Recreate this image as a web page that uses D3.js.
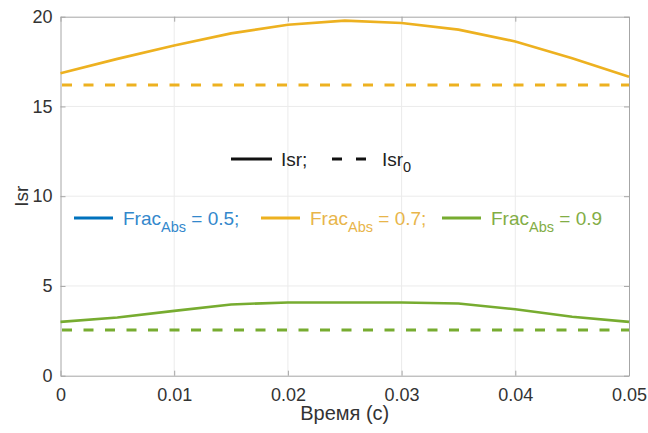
<!DOCTYPE html>
<html>
<head>
<meta charset="utf-8">
<script src="https://cdn.jsdelivr.net/npm/d3@7"></script>
<style>
  html, body { margin: 0; padding: 0; background: #fff; }
  svg { display: block; font-family: "Liberation Sans", Arial, sans-serif; }
</style>
</head>
<body>
<svg id="chart" width="648" height="433"></svg>
<script>
// ---- data ----
const time = [0, 0.005, 0.01, 0.015, 0.02, 0.025, 0.03, 0.035, 0.04, 0.045, 0.05];
const isrFrac07 = [16.85, 17.65, 18.4, 19.07, 19.55, 19.78, 19.65, 19.28, 18.62, 17.68, 16.65];
const isr0Frac07 = [16.2, 16.2, 16.2, 16.2, 16.2, 16.2, 16.2, 16.2, 16.2, 16.2, 16.2];
const isrFrac09 = [3.0, 3.24, 3.61, 3.97, 4.08, 4.08, 4.08, 4.02, 3.7, 3.28, 3.0];
const isr0Frac09 = [2.55, 2.55, 2.55, 2.55, 2.55, 2.55, 2.55, 2.55, 2.55, 2.55, 2.55];
const xTicks = [0, 0.01, 0.02, 0.03, 0.04, 0.05];
const xTickLabels = ["0", "0.01", "0.02", "0.03", "0.04", "0.05"];
const yTicks = [0, 5, 10, 15, 20];
const fracLabels = ["0.5;", "0.7;", "0.9"];
const fracColors = ["#0072BD", "#EDB120", "#77AC30"];
const fracTextColors = ["#3388cc", "#e8b54a", "#82ad45"];

// ---- layout ----
const svg = d3.select("#chart");
const pLeft = 60.5, pRight = 629, pTop = 16.7, pBottom = 375.7;
const x = d3.scaleLinear().domain([0, 0.05]).range([pLeft, pRight]);
const y = d3.scaleLinear().domain([0, 20]).range([pBottom, pTop]);
const axisColor = "#a6a6a6";
const textColor = "#333333";
const fontFam = "Liberation Sans, Arial, sans-serif";

// grid
const g = svg.append("g");
g.selectAll("line.gx").data(xTicks.slice(1, -1)).enter().append("line")
  .attr("x1", d => x(d)).attr("x2", d => x(d)).attr("y1", pTop).attr("y2", pBottom)
  .attr("stroke", "#ebebeb").attr("stroke-width", 1);
g.selectAll("line.gy").data(yTicks.slice(1, -1)).enter().append("line")
  .attr("x1", pLeft).attr("x2", pRight).attr("y1", d => y(d)).attr("y2", d => y(d))
  .attr("stroke", "#ebebeb").attr("stroke-width", 1);

// axes
const xAxis = d3.axisBottom(x).tickValues(xTicks).tickFormat((d, i) => xTickLabels[i])
  .tickSizeInner(-5).tickSizeOuter(0).tickPadding(13);
const yAxis = d3.axisLeft(y).tickValues(yTicks).tickFormat(d3.format("d"))
  .tickSizeInner(-5).tickSizeOuter(0).tickPadding(8);

const gx = svg.append("g").attr("transform", `translate(0,${pBottom})`).call(xAxis);
const gy = svg.append("g").attr("transform", `translate(${pLeft},0)`).call(yAxis);
const gxTop = svg.append("g").attr("transform", `translate(0,${pTop})`)
  .call(d3.axisTop(x).tickValues(xTicks).tickFormat("").tickSizeInner(-5).tickSizeOuter(0));
const gyRight = svg.append("g").attr("transform", `translate(${pRight},0)`)
  .call(d3.axisRight(y).tickValues(yTicks).tickFormat("").tickSizeInner(-5).tickSizeOuter(0));
[gx, gy, gxTop, gyRight].forEach(a => {
  a.attr("font-family", fontFam);
  a.select(".domain").attr("stroke", axisColor).attr("stroke-width", 1);
  a.selectAll(".tick line").attr("stroke", axisColor);
  a.selectAll(".tick text").attr("fill", textColor).attr("font-size", 18)
    .attr("font-family", fontFam);
});

// axis titles
svg.append("text").attr("x", (pLeft + pRight) / 2).attr("y", 420)
  .attr("text-anchor", "middle").attr("font-size", 20).attr("fill", textColor).text("Время (с)");
svg.append("text").attr("transform", `translate(28,${(pTop + pBottom) / 2}) rotate(-90)`)
  .attr("text-anchor", "middle").attr("font-size", 19).attr("fill", textColor).text("Isr");

// lines
const line = d3.line().x((d, i) => x(time[i])).y(d => y(d));
function drawLine(vals, color, dashed) {
  svg.append("path").datum(vals).attr("d", line).attr("fill", "none")
    .attr("stroke", color).attr("stroke-width", dashed ? 3 : 2.6)
    .attr("stroke-dasharray", dashed ? "10,11.5" : null)
    .attr("stroke-dashoffset", dashed ? -1.5 : null);
}
drawLine(isrFrac07, fracColors[1], false);
drawLine(isr0Frac07, fracColors[1], true);
drawLine(isrFrac09, fracColors[2], false);
drawLine(isr0Frac09, fracColors[2], true);

// legend 1 (line styles)
const leg1y = 159;
svg.append("line").attr("x1", 231).attr("x2", 272).attr("y1", leg1y).attr("y2", leg1y)
  .attr("stroke", "#111").attr("stroke-width", 2.8);
svg.append("text").attr("x", 281).attr("y", leg1y + 7).attr("font-size", 19).attr("fill", "#222").text("Isr;");
svg.append("line").attr("x1", 332).attr("x2", 366).attr("y1", leg1y).attr("y2", leg1y)
  .attr("stroke", "#111").attr("stroke-width", 2.8).attr("stroke-dasharray", "10,14");
const t0 = svg.append("text").attr("x", 382).attr("y", leg1y + 7).attr("font-size", 19).attr("fill", "#222");
t0.append("tspan").text("Isr");
t0.append("tspan").attr("dy", 6).attr("font-size", 14.5).text("0");

// legend 2 (Frac_Abs)
const leg2y = 218;
const legX = [74, 261, 442];
fracLabels.forEach((lab, i) => {
  svg.append("line").attr("x1", legX[i]).attr("x2", legX[i] + 39).attr("y1", leg2y).attr("y2", leg2y)
    .attr("stroke", fracColors[i]).attr("stroke-width", 2.8);
  const t = svg.append("text").attr("x", legX[i] + 49).attr("y", leg2y + 7)
    .attr("font-size", 19).attr("fill", fracTextColors[i]);
  t.append("tspan").text("Frac");
  t.append("tspan").attr("dy", 7).attr("font-size", 14.5).text("Abs");
  t.append("tspan").attr("dy", -7).text(" = " + lab);
});
</script>
</body>
</html>
